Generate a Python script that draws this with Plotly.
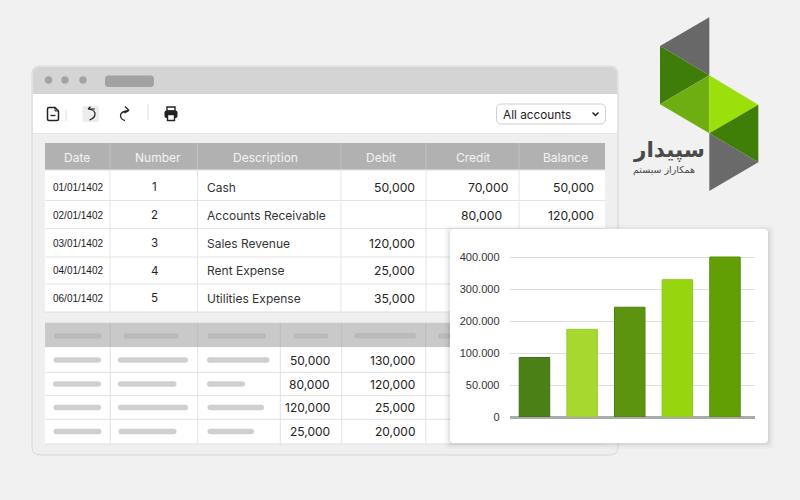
import numpy as np
import plotly.graph_objects as go

# chart data
bar_values = [93000, 174000, 243000, 329000, 405000]
bar_colors = ["#4a8015", "#a6d82e", "#5c9410", "#97d60e", "#629f05"]
bar_edges = ["#3c6c10", "#98cc30", "#4c800c", "#8cc814", "#568f05"]
tick_values = [0, 50000, 100000, 200000, 300000, 400000]
tick_labels = ["0", "50.000", "100.000", "200.000", "300.000", "400.000"]

# upper table
headers = ["Date", "Number", "Description", "Debit", "Credit", "Balance"]
dates = ["01/01/1402", "02/01/1402", "03/01/1402", "04/01/1402", "06/01/1402"]
numbers = ["1", "2", "3", "4", "5"]
descriptions = ["Cash", "Accounts Receivable", "Sales Revenue", "Rent Expense", "Utilities Expense"]
debits = ["50,000", "", "120,000", "25,000", "35,000"]
credits = ["70,000", "80,000"]
balances = ["50,000", "120,000"]

# lower table
lower_debits = ["50,000", "80,000", "120,000", "25,000"]
lower_credits = ["130,000", "120,000", "25,000", "20,000"]

FONT = "Inter"
NARROW = "Liberation Sans"
shapes = []
notes = []


def rounded(x0, y0, x1, y1, r):
    return (f"M{x0+r},{y0} L{x1-r},{y0} Q{x1},{y0} {x1},{y0+r} L{x1},{y1-r} Q{x1},{y1} {x1-r},{y1} "
            f"L{x0+r},{y1} Q{x0},{y1} {x0},{y1-r} L{x0},{y0+r} Q{x0},{y0} {x0+r},{y0} Z")


def rect(x0, y0, x1, y1, fill, line=None, width=1, r=0):
    shapes.append(dict(type="path", path=rounded(x0, y0, x1, y1, r), xref="x", yref="y", layer="below",
                       fillcolor=fill, line=dict(color=line or "rgba(0,0,0,0)", width=width if line else 0)))


def seg(x0, y0, x1, y1, color, width=1):
    shapes.append(dict(type="line", x0=x0, y0=y0, x1=x1, y1=y1, xref="x", yref="y", layer="below",
                       line=dict(color=color, width=width)))


def poly(points, fill):
    d = "M" + " L".join(f"{a},{b}" for a, b in points) + " Z"
    shapes.append(dict(type="path", path=d, xref="x", yref="y", layer="below", fillcolor=fill, line=dict(width=0)))


def icon(d, color="#222222", width=1.6, fill="rgba(0,0,0,0)"):
    shapes.append(dict(type="path", path=d, xref="x", yref="y", layer="below", fillcolor=fill,
                       line=dict(color=color, width=width)))


def label(x, y, text, size=11.5, color="#2a2a2a", anchor="center", family=FONT):
    notes.append(dict(x=x, y=y, xref="x", yref="y", text=text, showarrow=False, xanchor=anchor, yanchor="middle",
                      borderpad=0, borderwidth=0, font=dict(family=family, size=size, color=color)))


# window
rect(32, 66, 618, 455, "#efefef", "#d6d6d6", 1, 8)
shapes.append(dict(type="path", path="M33,94 L33,74 Q33,67 40,67 L610,67 Q617,67 617,74 L617,94 Z", xref="x", yref="y",
                   layer="below", fillcolor="#d4d4d4", line=dict(width=0)))
rect(33, 94, 617, 133, "#ffffff")
seg(33, 133.5, 617, 133.5, "#e6e6e6", 1)
for cx in [48.5, 65, 83]:
    rect(cx - 3.7, 76.3, cx + 3.7, 83.7, "#a3a3a3", r=3.7)
rect(105, 75.5, 154, 87, "#a2a2a2", r=3.5)

# toolbar icons
icon("M47.5,109 Q47.5,107.5 49,107.5 L55,107.5 L58.5,111 L58.5,119 Q58.5,120.5 57,120.5 L49,120.5 Q47.5,120.5 47.5,119 Z", width=1.5)
icon("M50.5,115.5 L55.5,115.5", width=1.3)
icon("M55,107.5 L55,111 L58.5,111", width=1)
seg(66, 109, 66, 121, "#dddddd", 1)
rect(82.5, 106, 99, 122, "#ececec", r=2)
icon("M88,109 L95,109 M88,109 L90.5,106.8 M88,109 Q94,109.5 95,113 Q95.5,118 89.5,120", width=1.2)
icon("M129,110.5 L125,106.5 M129,110.5 L124.5,113 M129,110.5 Q120,111.5 120.5,116 Q121,119.5 125,120.5", width=1.3)
seg(148, 104, 148, 120, "#dddddd", 1)
rect(167, 107, 175, 111, "#ffffff", "#222222", 1.4)
rect(164.5, 110.5, 177.5, 118, "#222222", r=2)
rect(167.5, 114.5, 174.5, 120.5, "#ffffff", "#222222", 1.4)

# dropdown
rect(496.5, 104, 605.5, 124, "#ffffff", "#d0d0d0", 1, 5)
label(503, 114.5, "All accounts", 11.8, "#222222", "left")
icon("M592.5,112.5 L595.5,115.5 L598.5,112.5", "#222222", 1.5)

# upper table frame
col_edges = [45, 110, 197.5, 341, 426, 519, 605]
header_mid = [77, 158, 265.5, 380.5, 472.5, 565.5]
row_edges = [170, 200.5, 228.5, 257, 284, 312]
rect(45, 143, 605, 170, "#b1b1b1")
rect(45, 170, 605, 312, "#ffffff")
for x in col_edges[1:-1]:
    seg(x, 143, x, 170, "#c2c2c2", 1)
    seg(x, 170, x, 312, "#e4e4e4", 1)
for y in row_edges[:-1]:
    seg(45, y, 605, y, "#e4e4e4", 1)
seg(45, 312, 605, 312, "#e0e0e0", 1)
for i, h in enumerate(headers):
    label(header_mid[i], 157, h, 12, "#f4f4f4")
row_mid = [187, 215, 243, 270.5, 298]
for i in range(5):
    label(53, row_mid[i], dates[i], 10, "#1a1a1a", "left", NARROW)
    label(154, row_mid[i], numbers[i], 11.5, "#222222")
    label(207, row_mid[i], descriptions[i], 12, "#333333", "left")
    label(415, row_mid[i], debits[i], 12.2, "#222222", "right")
label(508, 187, credits[0], 12.2, "#222222", "right")
label(502, 215, credits[1], 12.2, "#222222", "right")
label(594, 187, balances[0], 12.2, "#222222", "right")
label(594, 215, balances[1], 12.2, "#222222", "right")

# lower table frame
low_cols = [45.3, 110.3, 197.7, 280.3, 341.7, 425.7]
low_rows = [347.3, 372.3, 395.7, 419.3, 444]
rect(45, 322.7, 605, 347.3, "#c9c9c9")
rect(45, 347.3, 605, 444, "#ffffff")
for x in low_cols[1:]:
    seg(x, 322.7, x, 347.3, "#bdbdbd", 1)
    seg(x, 347.3, x, 444, "#e2e2e2", 1)
for y in low_rows[1:-1]:
    seg(45, y, 605, y, "#e2e2e2", 1)
seg(45, 444, 605, 444, "#e0e0e0", 1)
low_mid = [360.5, 384, 407.5, 431.5]
for y0, spans in [(336, [(54, 101), (123.5, 178.5), (207.5, 266)]),
                  (360, [(53.5, 101), (118, 188), (207, 269.5)]),
                  (384, [(53, 101), (118, 176.5), (207, 245)]),
                  (407.5, [(53.5, 101), (118, 188), (207.5, 264)]),
                  (431.5, [(53.5, 101.5), (118.5, 176.5), (207.5, 254)])]:
    for a, b in spans:
        rect(a, y0 - 2.8, b, y0 + 2.8, "#bababa" if y0 == 336 else "#cfcfcf", r=2.8)
rect(293, 333.5, 328.5, 338.5, "#bababa", r=2.5)
rect(354, 333, 416, 338.5, "#bababa", r=2.5)
rect(438, 333.5, 452, 338.5, "#bababa", r=2.5)
for i in range(4):
    label(330, low_mid[i], lower_debits[i], 12, "#222222", "right")
    label(415, low_mid[i], lower_credits[i], 12, "#222222", "right")

# logo
T, L1, C1, L2 = (709.3, 17.3), (660, 46), (709.3, 75.3), (660, 104.3)
C2, R1, R2, B = (709.3, 133.3), (758.3, 104.7), (758.3, 162.3), (709.3, 191)
poly([T, L1, C1], "#686868")
poly([L1, C1, L2], "#3f7d0a")
poly([L2, C1, C2], "#6fae10")
poly([C1, R1, C2], "#9be00a")
poly([C2, R1, R2], "#3f7f07")
poly([C2, R2, B], "#6a6a6a")
label(668.5, 149, "<b>سپیدار</b>", 21.5, "#4a4a4a", family="DejaVu Sans")
label(664, 170, "همکاراز سیستم", 9.5, "#4a4a4a", family="DejaVu Sans")

# chart card, last of the page shapes so it covers the window
for grow, alpha in [(6, 0.02), (4, 0.03), (2, 0.05)]:
    rect(450 - grow, 229 - grow + 2, 768 + grow, 443 + grow, f"rgba(0,0,0,{alpha})", r=5)
rect(450, 229, 768, 443, "#ffffff", r=4)

# bar plot area in page pixels
px0, px1, py0, py1 = 509.7, 755.0, 253.8, 417.0

# the picture's axis is evenly spaced at uneven tick values
tick_pos = list(range(len(tick_values)))
bar_pos = np.interp(bar_values, tick_values, tick_pos)
bars = go.Bar(x=list(range(len(bar_values))), y=bar_pos, width=0.64, xaxis="x2", yaxis="y2",
              marker=dict(color=bar_colors, line=dict(color=bar_edges, width=1)), hoverinfo="skip")
# invisible trace so the full-page pixel axes exist
base = go.Scatter(x=[0, 800], y=[0, 500], mode="markers", marker=dict(opacity=0), hoverinfo="skip")

fig = go.Figure(data=[base, bars])
fig.update_layout(
    width=800, height=500, margin=dict(l=0, r=0, t=0, b=0, pad=0, autoexpand=False), showlegend=False,
    paper_bgcolor="#f1f1f1", plot_bgcolor="rgba(0,0,0,0)",
    shapes=shapes, annotations=notes,
    xaxis=dict(domain=[0, 1], range=[0, 800], visible=False, fixedrange=True),
    yaxis=dict(domain=[0, 1], range=[500, 0], visible=False, fixedrange=True),
    xaxis2=dict(domain=[px0 / 800, px1 / 800], range=[-0.52, 4.63], anchor="y2", showticklabels=False,
                showgrid=False, zeroline=False, ticks=""),
    yaxis2=dict(domain=[(500 - py1) / 500, (500 - py0) / 500], range=[0, (py1 - py0) / 32], anchor="x2",
                tickmode="array", tickvals=tick_pos, ticktext=tick_labels,
                tickfont=dict(family=NARROW, size=11, color="#333333"),
                ticks="outside", ticklen=7, tickcolor="rgba(0,0,0,0)",
                showgrid=True, gridcolor="#dcdfe3", gridwidth=1.3,
                zeroline=True, zerolinecolor="#ababab", zerolinewidth=3),
)
fig.write_html("out.html", post_script="document.body.style.margin='0';", config={"displayModeBar": False})
